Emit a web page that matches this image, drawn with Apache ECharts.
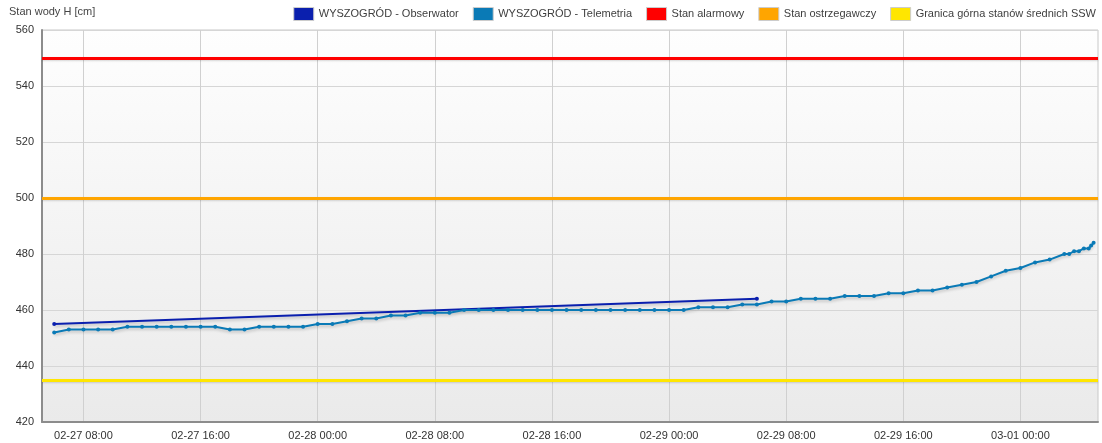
<!DOCTYPE html>
<html>
<head>
<meta charset="utf-8">
<title>Stan wody - Wyszogród</title>
<style>
html, body {
  margin: 0;
  padding: 0;
  background: #ffffff;
}
#container {
  width: 1102px;
  height: 443px;
}
</style>
</head>
<body>
<div id="container"></div>
<script src="https://cdn.jsdelivr.net/npm/echarts@6/dist/echarts.min.js"></script>
<script type="text/javascript">

	// observer readings
	var observerTimes = ['02-27 06:00', '02-29 06:00'];
	var observerValues = [455, 464];

	// telemetry readings
	var telemetryTimes = [
		'02-27 06:00', '02-27 07:00', '02-27 08:00', '02-27 09:00', '02-27 10:00', '02-27 11:00',
		'02-27 12:00', '02-27 13:00', '02-27 14:00', '02-27 15:00', '02-27 16:00', '02-27 17:00',
		'02-27 18:00', '02-27 19:00', '02-27 20:00', '02-27 21:00', '02-27 22:00', '02-27 23:00',
		'02-28 00:00', '02-28 01:00', '02-28 02:00', '02-28 03:00', '02-28 04:00', '02-28 05:00',
		'02-28 06:00', '02-28 07:00', '02-28 08:00', '02-28 09:00', '02-28 10:00', '02-28 11:00',
		'02-28 12:00', '02-28 13:00', '02-28 14:00', '02-28 15:00', '02-28 16:00', '02-28 17:00',
		'02-28 18:00', '02-28 19:00', '02-28 20:00', '02-28 21:00', '02-28 22:00', '02-28 23:00',
		'02-29 00:00', '02-29 01:00', '02-29 02:00', '02-29 03:00', '02-29 04:00', '02-29 05:00',
		'02-29 06:00', '02-29 07:00', '02-29 08:00', '02-29 09:00', '02-29 10:00', '02-29 11:00',
		'02-29 12:00', '02-29 13:00', '02-29 14:00', '02-29 15:00', '02-29 16:00', '02-29 17:00',
		'02-29 18:00', '02-29 19:00', '02-29 20:00', '02-29 21:00', '02-29 22:00', '02-29 23:00',
		'03-01 00:00', '03-01 01:00', '03-01 02:00', '03-01 03:00', '03-01 03:20', '03-01 03:40',
		'03-01 04:00', '03-01 04:20', '03-01 04:40', '03-01 04:50', '03-01 05:00'
	];
	var telemetryValues = [
		452, 453, 453, 453, 453, 454,
		454, 454, 454, 454, 454, 454,
		453, 453, 454, 454, 454, 454,
		455, 455, 456, 457, 457, 458,
		458, 459, 459, 459, 460, 460,
		460, 460, 460, 460, 460, 460,
		460, 460, 460, 460, 460, 460,
		460, 460, 461, 461, 461, 462,
		462, 463, 463, 464, 464, 464,
		465, 465, 465, 466, 466, 467,
		467, 468, 469, 470, 472, 474,
		475, 477, 478, 480, 480, 481,
		481, 482, 482, 483, 484
	];

	// threshold levels
	var alarmLevel = 550;
	var warningLevel = 500;
	var sswLevel = 435;

	// axes
	var xStart = '02-27 05:10';
	var xEnd = '03-01 05:18';
	var xTickLabels = ['02-27 08:00', '02-27 16:00', '02-28 00:00', '02-28 08:00', '02-28 16:00',
		'02-29 00:00', '02-29 08:00', '02-29 16:00', '03-01 00:00'];
	var yMin = 420, yMax = 560, yStep = 20;

	var seriesNames = ['WYSZOGRÓD - Obserwator', 'WYSZOGRÓD - Telemetria', 'Stan alarmowy',
		'Stan ostrzegawczy', 'Granica górna stanów średnich SSW'];

	function toTime(s) {
		// "MM-DD HH:mm" in 2024
		var p = s.split(' ');
		var d = p[0].split('-'), h = p[1].split(':');
		return Date.UTC(2024, +d[0] - 1, +d[1], +h[0], +h[1]);
	}
	function pad(n) { return (n < 10 ? '0' : '') + n; }
	function fmtTime(v) {
		var d = new Date(v);
		return pad(d.getUTCMonth() + 1) + '-' + pad(d.getUTCDate()) + ' ' + pad(d.getUTCHours()) + ':' + pad(d.getUTCMinutes());
	}
	function pairs(times, values) {
		var out = [];
		for (var i = 0; i < times.length; i++) out.push([toTime(times[i]), values[i]]);
		return out;
	}
	function levelSeries(name, color, level) {
		return {
			name: name,
			type: 'line',
			data: [],
			color: color,
			silent: true,
			markLine: {
				silent: true,
				symbol: ['none', 'none'],
				label: { show: false },
				lineStyle: { color: color, width: 3, type: 'solid', shadowColor: 'rgba(0,0,0,0.15)', shadowBlur: 2, shadowOffsetY: 1 },
				data: [{ yAxis: level }]
			}
		};
	}

	var tickValues = xTickLabels.map(toTime);
	var font = '"Liberation Sans", Arial, sans-serif';

	var myChart = echarts.init(document.getElementById('container'), null, { renderer: 'canvas' });
	var option = {
		animation: false,
		textStyle: { fontFamily: font },
		title: {
			text: 'Stan wody H [cm]',
			left: 4,
			top: 1,
			textStyle: { fontSize: 11, fontWeight: 'normal', color: '#444', fontFamily: font }
		},
		legend: {
			right: 1,
			top: 2,
			icon: 'rect',
			itemWidth: 20,
			itemHeight: 13,
			itemGap: 14,
			itemStyle: { borderColor: '#cccccc', borderWidth: 1 },
			textStyle: { fontSize: 11, color: '#3e3e3e', fontFamily: font },
			data: seriesNames
		},
		grid: {
			left: 42,
			right: 4,
			top: 30,
			bottom: 21,
			outerBoundsMode: 'none',
			show: true,
			borderColor: '#c8c8c8',
			borderWidth: 1,
			backgroundColor: new echarts.graphic.LinearGradient(0, 0, 0, 1, [
				{ offset: 0, color: '#fefefe' },
				{ offset: 1, color: '#eaeaea' }
			])
		},
		xAxis: {
			type: 'value',
			min: toTime(xStart),
			max: toTime(xEnd),
			axisLine: { show: true, lineStyle: { color: '#8c8c8c', width: 2 } },
			axisTick: { show: false, customValues: tickValues },
			axisLabel: {
				customValues: tickValues,
				margin: 8,
				fontSize: 11,
				color: '#333',
				fontFamily: font,
				formatter: function (v) { return fmtTime(v); }
			},
			splitLine: { show: true, lineStyle: { color: '#d0d0d0', width: 1 } }
		},
		yAxis: {
			type: 'value',
			min: yMin,
			max: yMax,
			interval: yStep,
			axisLine: { show: true, lineStyle: { color: '#8c8c8c', width: 2 } },
			axisTick: { show: false },
			axisLabel: { margin: 8, fontSize: 11, color: '#333', fontFamily: font },
			splitLine: { show: true, lineStyle: { color: '#d6d6d6', width: 1 } }
		},
		series: [
			levelSeries(seriesNames[2], '#ff0000', alarmLevel),
			levelSeries(seriesNames[3], '#ffa500', warningLevel),
			levelSeries(seriesNames[4], '#ffe600', sswLevel),
			{
				name: seriesNames[0],
				type: 'line',
				color: '#0a1fae',
				data: pairs(observerTimes, observerValues),
				symbol: 'circle',
				symbolSize: 4,
				lineStyle: { width: 2, shadowColor: 'rgba(0,0,0,0.2)', shadowBlur: 3, shadowOffsetY: 2 },
				z: 3
			},
			{
				name: seriesNames[1],
				type: 'line',
				color: '#0a7ab6',
				data: pairs(telemetryTimes, telemetryValues),
				symbol: 'circle',
				symbolSize: 4,
				lineStyle: { width: 2, shadowColor: 'rgba(0,0,0,0.2)', shadowBlur: 3, shadowOffsetY: 2 },
				z: 4
			}
		]
	};
	myChart.setOption(option, true);
</script>
</body>
</html>
